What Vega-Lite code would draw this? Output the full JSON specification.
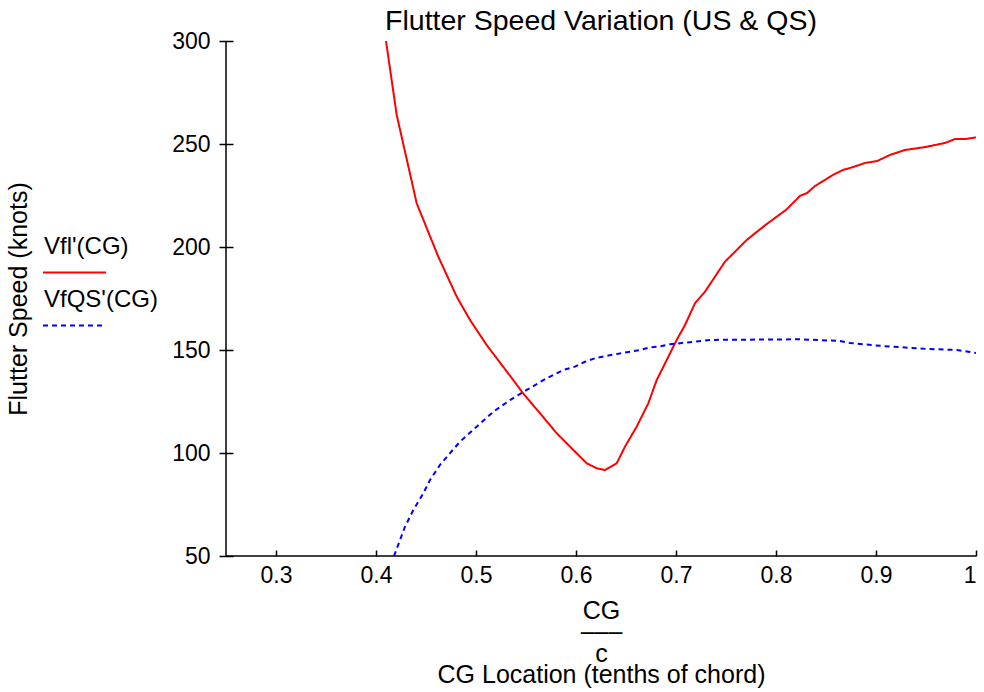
{
  "$schema": "https://vega.github.io/schema/vega-lite/v6.json",
  "width": 750,
  "height": 515,
  "autosize": {"type": "none"},
  "padding": {"left": 226, "top": 41, "right": 8, "bottom": 136},
  "background": "white",
  "config": {
    "font": "Liberation Sans",
    "view": {"stroke": null},
    "axis": {"grid": false, "labelColor": "black", "titleColor": "black", "tickColor": "black", "labelFont": "Liberation Sans", "titleFont": "Liberation Sans", "titleFontWeight": "normal"},
    "legend": {"padding": 0}
  },
  "title": {"text": "Flutter Speed Variation (US & QS)", "fontSize": 28.5, "fontWeight": "normal", "color": "black", "font": "Liberation Sans", "offset": -5, "anchor": "middle", "frame": "group"},
  "layer": [
    {
      "data": {"values": [
        {"x": 0.41, "v": 300, "series": "Vfl'(CG)"},
        {"x": 0.4207, "v": 264.1, "series": "Vfl'(CG)"},
        {"x": 0.4407, "v": 221.2, "series": "Vfl'(CG)"},
        {"x": 0.4623, "v": 195.3, "series": "Vfl'(CG)"},
        {"x": 0.4807, "v": 175.9, "series": "Vfl'(CG)"},
        {"x": 0.494, "v": 164.6, "series": "Vfl'(CG)"},
        {"x": 0.5007, "v": 159.7, "series": "Vfl'(CG)"},
        {"x": 0.5107, "v": 152.4, "series": "Vfl'(CG)"},
        {"x": 0.5207, "v": 146.0, "series": "Vfl'(CG)"},
        {"x": 0.5373, "v": 135.4, "series": "Vfl'(CG)"},
        {"x": 0.547, "v": 129.0, "series": "Vfl'(CG)"},
        {"x": 0.564, "v": 119.3, "series": "Vfl'(CG)"},
        {"x": 0.5807, "v": 109.6, "series": "Vfl'(CG)"},
        {"x": 0.594, "v": 103.1, "series": "Vfl'(CG)"},
        {"x": 0.6107, "v": 95.0, "series": "Vfl'(CG)"},
        {"x": 0.6207, "v": 92.6, "series": "Vfl'(CG)"},
        {"x": 0.629, "v": 91.7, "series": "Vfl'(CG)"},
        {"x": 0.6407, "v": 95.0, "series": "Vfl'(CG)"},
        {"x": 0.649, "v": 103.1, "series": "Vfl'(CG)"},
        {"x": 0.6607, "v": 112.8, "series": "Vfl'(CG)"},
        {"x": 0.6723, "v": 124.1, "series": "Vfl'(CG)"},
        {"x": 0.6807, "v": 135.4, "series": "Vfl'(CG)"},
        {"x": 0.6923, "v": 146.7, "series": "Vfl'(CG)"},
        {"x": 0.7007, "v": 154.9, "series": "Vfl'(CG)"},
        {"x": 0.709, "v": 162.1, "series": "Vfl'(CG)"},
        {"x": 0.719, "v": 172.7, "series": "Vfl'(CG)"},
        {"x": 0.729, "v": 178.3, "series": "Vfl'(CG)"},
        {"x": 0.739, "v": 185.6, "series": "Vfl'(CG)"},
        {"x": 0.749, "v": 192.9, "series": "Vfl'(CG)"},
        {"x": 0.759, "v": 197.7, "series": "Vfl'(CG)"},
        {"x": 0.7707, "v": 203.4, "series": "Vfl'(CG)"},
        {"x": 0.79, "v": 210.9, "series": "Vfl'(CG)"},
        {"x": 0.81, "v": 218.0, "series": "Vfl'(CG)"},
        {"x": 0.824, "v": 224.8, "series": "Vfl'(CG)"},
        {"x": 0.831, "v": 226.2, "series": "Vfl'(CG)"},
        {"x": 0.839, "v": 229.6, "series": "Vfl'(CG)"},
        {"x": 0.857, "v": 235.0, "series": "Vfl'(CG)"},
        {"x": 0.867, "v": 237.4, "series": "Vfl'(CG)"},
        {"x": 0.877, "v": 238.8, "series": "Vfl'(CG)"},
        {"x": 0.889, "v": 240.8, "series": "Vfl'(CG)"},
        {"x": 0.901, "v": 241.7, "series": "Vfl'(CG)"},
        {"x": 0.914, "v": 244.7, "series": "Vfl'(CG)"},
        {"x": 0.929, "v": 247.1, "series": "Vfl'(CG)"},
        {"x": 0.949, "v": 248.5, "series": "Vfl'(CG)"},
        {"x": 0.969, "v": 250.5, "series": "Vfl'(CG)"},
        {"x": 0.979, "v": 252.4, "series": "Vfl'(CG)"},
        {"x": 0.989, "v": 252.4, "series": "Vfl'(CG)"},
        {"x": 1.0, "v": 253.2, "series": "Vfl'(CG)"},
        {"x": 0.418, "v": 50, "series": "VfQS'(CG)"},
        {"x": 0.429, "v": 64.2, "series": "VfQS'(CG)"},
        {"x": 0.4373, "v": 72.3, "series": "VfQS'(CG)"},
        {"x": 0.4473, "v": 80.4, "series": "VfQS'(CG)"},
        {"x": 0.454, "v": 86.9, "series": "VfQS'(CG)"},
        {"x": 0.464, "v": 94.2, "series": "VfQS'(CG)"},
        {"x": 0.474, "v": 99.9, "series": "VfQS'(CG)"},
        {"x": 0.484, "v": 105.5, "series": "VfQS'(CG)"},
        {"x": 0.5007, "v": 112.8, "series": "VfQS'(CG)"},
        {"x": 0.5173, "v": 120.0, "series": "VfQS'(CG)"},
        {"x": 0.534, "v": 125.7, "series": "VfQS'(CG)"},
        {"x": 0.5507, "v": 130.6, "series": "VfQS'(CG)"},
        {"x": 0.5707, "v": 136.3, "series": "VfQS'(CG)"},
        {"x": 0.5873, "v": 140.3, "series": "VfQS'(CG)"},
        {"x": 0.599, "v": 141.9, "series": "VfQS'(CG)"},
        {"x": 0.609, "v": 144.3, "series": "VfQS'(CG)"},
        {"x": 0.619, "v": 146.0, "series": "VfQS'(CG)"},
        {"x": 0.6307, "v": 147.2, "series": "VfQS'(CG)"},
        {"x": 0.664, "v": 150.0, "series": "VfQS'(CG)"},
        {"x": 0.674, "v": 151.3, "series": "VfQS'(CG)"},
        {"x": 0.6823, "v": 151.6, "series": "VfQS'(CG)"},
        {"x": 0.694, "v": 152.8, "series": "VfQS'(CG)"},
        {"x": 0.704, "v": 153.3, "series": "VfQS'(CG)"},
        {"x": 0.7173, "v": 154.0, "series": "VfQS'(CG)"},
        {"x": 0.734, "v": 154.9, "series": "VfQS'(CG)"},
        {"x": 0.824, "v": 155.2, "series": "VfQS'(CG)"},
        {"x": 0.864, "v": 154.4, "series": "VfQS'(CG)"},
        {"x": 0.874, "v": 153.4, "series": "VfQS'(CG)"},
        {"x": 0.907, "v": 151.9, "series": "VfQS'(CG)"},
        {"x": 0.951, "v": 150.5, "series": "VfQS'(CG)"},
        {"x": 0.981, "v": 150.0, "series": "VfQS'(CG)"},
        {"x": 0.994, "v": 149.0, "series": "VfQS'(CG)"},
        {"x": 1.0, "v": 148.5, "series": "VfQS'(CG)"}
      ]},
      "mark": {"type": "line", "strokeWidth": 2, "clip": true},
      "encoding": {
        "x": {
          "field": "x", "type": "quantitative",
          "scale": {"domain": [0.25, 1], "nice": false, "zero": false},
          "axis": {
            "values": [0.3, 0.4, 0.5, 0.6, 0.7, 0.8, 0.9, 1],
            "format": ".1~f",
            "domain": false, "tickSize": 6, "offset": -6, "tickWidth": 1.5,
            "labelPadding": 8, "labelFontSize": 23,
            "title": ["CG", "–––", "c", "CG Location (tenths of chord)"],
            "titleFontSize": 25, "titleLineHeight": 21.5, "titlePadding": 11
          }
        },
        "y": {
          "field": "v", "type": "quantitative",
          "scale": {"domain": [50, 300], "nice": false, "zero": false},
          "axis": {
            "values": [50, 100, 150, 200, 250, 300],
            "domain": false, "tickSize": 14, "offset": -7, "tickWidth": 1.5,
            "labelPadding": 9, "labelFontSize": 23,
            "title": "Flutter Speed (knots)", "titleFontSize": 25, "titlePadding": 140
          }
        },
        "color": {
          "field": "series", "type": "nominal",
          "scale": {"domain": ["Vfl'(CG)", "VfQS'(CG)"], "range": ["#ff0000", "#0000ff"]},
          "legend": {
            "orient": "none", "legendX": -184, "legendY": 199, "title": null,
            "symbolType": "stroke", "symbolSize": 3969, "symbolStrokeWidth": 2,
            "labelFontSize": 24, "labelColor": "black", "labelOffset": -63, "labelBaseline": "bottom",
            "rowPadding": 10,
            "encode": {"labels": {"update": {"dy": {"value": -14}}}}
          }
        },
        "strokeDash": {
          "field": "series", "type": "nominal",
          "scale": {"domain": ["Vfl'(CG)", "VfQS'(CG)"], "range": [[1, 0], [5, 4]]},
          "legend": {
            "orient": "none", "legendX": -184, "legendY": 199, "title": null,
            "symbolType": "stroke", "symbolSize": 3969, "symbolStrokeWidth": 2,
            "labelFontSize": 24, "labelColor": "black", "labelOffset": -63, "labelBaseline": "bottom",
            "rowPadding": 10,
            "encode": {"labels": {"update": {"dy": {"value": -14}}}}
          }
        }
      }
    },
    {
      "data": {"values": [{}]},
      "mark": {"type": "rule", "color": "black", "strokeWidth": 1.5},
      "encoding": {"x": {"datum": 0.25, "type": "quantitative"}}
    },
    {
      "data": {"values": [{}]},
      "mark": {"type": "rule", "color": "black", "strokeWidth": 1.5},
      "encoding": {"y": {"datum": 50, "type": "quantitative"}}
    }
  ]
}
